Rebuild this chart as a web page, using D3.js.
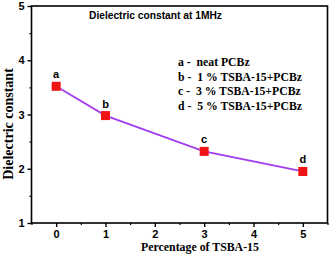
<!DOCTYPE html>
<html><head><meta charset="utf-8">
<script src="https://cdn.jsdelivr.net/npm/d3@7"></script>
<style>body{margin:0;background:#fff}svg{display:block}</style>
</head><body>
<svg id="c" width="331" height="258"></svg>
<script>
const xValues = [0, 1, 3, 5];
const yValues = [3.52, 2.98, 2.32, 1.95];
const pointLabels = ["a", "b", "c", "d"];
const xTicks = [0, 1, 2, 3, 4, 5];
const yTicks = [1, 2, 3, 4, 5];
const legendLines = ["a -  neat PCBz", "b -  1 % TSBA-15+PCBz", "c -  3 % TSBA-15+PCBz", "d -  5 % TSBA-15+PCBz"];
const title = "Dielectric constant at 1MHz";
const xTitle = "Percentage of TSBA-15";
const yTitle = "Dielectric constant";

const svg = d3.select("#c");
const L = 31.5, R = 327.5, T = 6, B = 223;
const x = d3.scaleLinear().domain([-0.5, 5.5]).range([L, R]);
const y = d3.scaleLinear().domain([1, 5]).range([B, T]);
const sans = "Arial, 'Liberation Sans', sans-serif";
const serif = "'Times New Roman', 'Liberation Serif', serif";

function fitWidth(sel, target, maxFs) {
  const fs = +sel.attr("font-size");
  const w = sel.node().getComputedTextLength();
  if (w > 0) {
    let n = fs * target / w;
    if (maxFs) n = Math.min(n, maxFs);
    sel.attr("font-size", n.toFixed(2));
  }
}

// frame
svg.append("rect").attr("x", L).attr("y", T).attr("width", R - L).attr("height", B - T)
  .attr("fill", "none").attr("stroke", "#000").attr("stroke-width", 1.6);

// x axis
const xAxis = d3.axisBottom(x).tickValues(xTicks).tickSize(4).tickPadding(3).tickFormat(d3.format("d"));
const gx = svg.append("g").attr("transform", `translate(0,${B})`).call(xAxis);
gx.select(".domain").remove();
gx.selectAll("line").attr("stroke-width", 1.4);
gx.selectAll("text").attr("font-family", sans).attr("font-weight", "900").attr("font-size", 11).attr("fill", "#000");
const gxm = svg.append("g").attr("transform", `translate(0,${B})`)
  .call(d3.axisBottom(x).tickValues(d3.range(-0.5, 5.6, 1)).tickSize(2).tickFormat(""));
gxm.select(".domain").remove();
gxm.selectAll("line").attr("stroke-width", 1.2);

// y axis
const yAxis = d3.axisLeft(y).tickValues(yTicks).tickSize(4).tickPadding(3).tickFormat(d3.format("d"));
const gy = svg.append("g").attr("transform", `translate(${L},0)`).call(yAxis);
gy.select(".domain").remove();
gy.selectAll("line").attr("stroke-width", 1.4);
gy.selectAll("text").attr("font-family", sans).attr("font-weight", "900").attr("font-size", 11).attr("fill", "#000");
const gym = svg.append("g").attr("transform", `translate(${L},0)`)
  .call(d3.axisLeft(y).tickValues(d3.range(1.5, 5, 1)).tickSize(2).tickFormat(""));
gym.select(".domain").remove();
gym.selectAll("line").attr("stroke-width", 1.2);

// line
const pts = xValues.map((v, i) => ({x: v, y: yValues[i], l: pointLabels[i]}));
svg.append("path").datum(pts)
  .attr("d", d3.line().x(d => x(d.x)).y(d => y(d.y)))
  .attr("fill", "none").attr("stroke", "#a43cf0").attr("stroke-width", 1.8);

const s = 9;
svg.selectAll("rect.m").data(pts).enter().append("rect").attr("class", "m")
  .attr("x", d => x(d.x) - s / 2).attr("y", d => y(d.y) - s / 2)
  .attr("width", s).attr("height", s).attr("fill", "#f01414");

svg.selectAll("text.pl").data(pts).enter().append("text").attr("class", "pl")
  .attr("x", d => x(d.x)).attr("y", d => y(d.y) - 8)
  .attr("text-anchor", "middle").attr("font-family", sans).attr("font-weight", "bold")
  .attr("font-size", 11).text(d => d.l);

// title
const tt = svg.append("text").attr("x", 89).attr("y", 19).attr("font-family", sans)
  .attr("font-weight", "bold").attr("font-size", 10).text(title);
fitWidth(tt, 133);

// legend
const lg = svg.selectAll("text.lg").data(legendLines).enter().append("text").attr("class", "lg")
  .attr("x", 178).attr("y", (d, i) => 66 + i * 14.6)
  .attr("font-family", serif).attr("font-weight", "bold").attr("font-size", 12)
  .attr("xml:space", "preserve").style("white-space", "pre").text(d => d);
{
  const w = lg.filter((d, i) => i === 1).node().getComputedTextLength();
  if (w > 0) lg.attr("font-size", (12 * 124 / w).toFixed(2));
}

// axis titles
const xt = svg.append("text").attr("x", 200).attr("y", 251).attr("text-anchor", "middle")
  .attr("font-family", serif).attr("font-weight", "bold").attr("font-size", 12).text(xTitle);
fitWidth(xt, 118);
const yt = svg.append("text").attr("transform", "translate(12.5,124) rotate(-90)").attr("text-anchor", "middle")
  .attr("font-family", serif).attr("font-weight", "bold").attr("font-size", 13).text(yTitle);
fitWidth(yt, 120, 14);
</script>
</body></html>
